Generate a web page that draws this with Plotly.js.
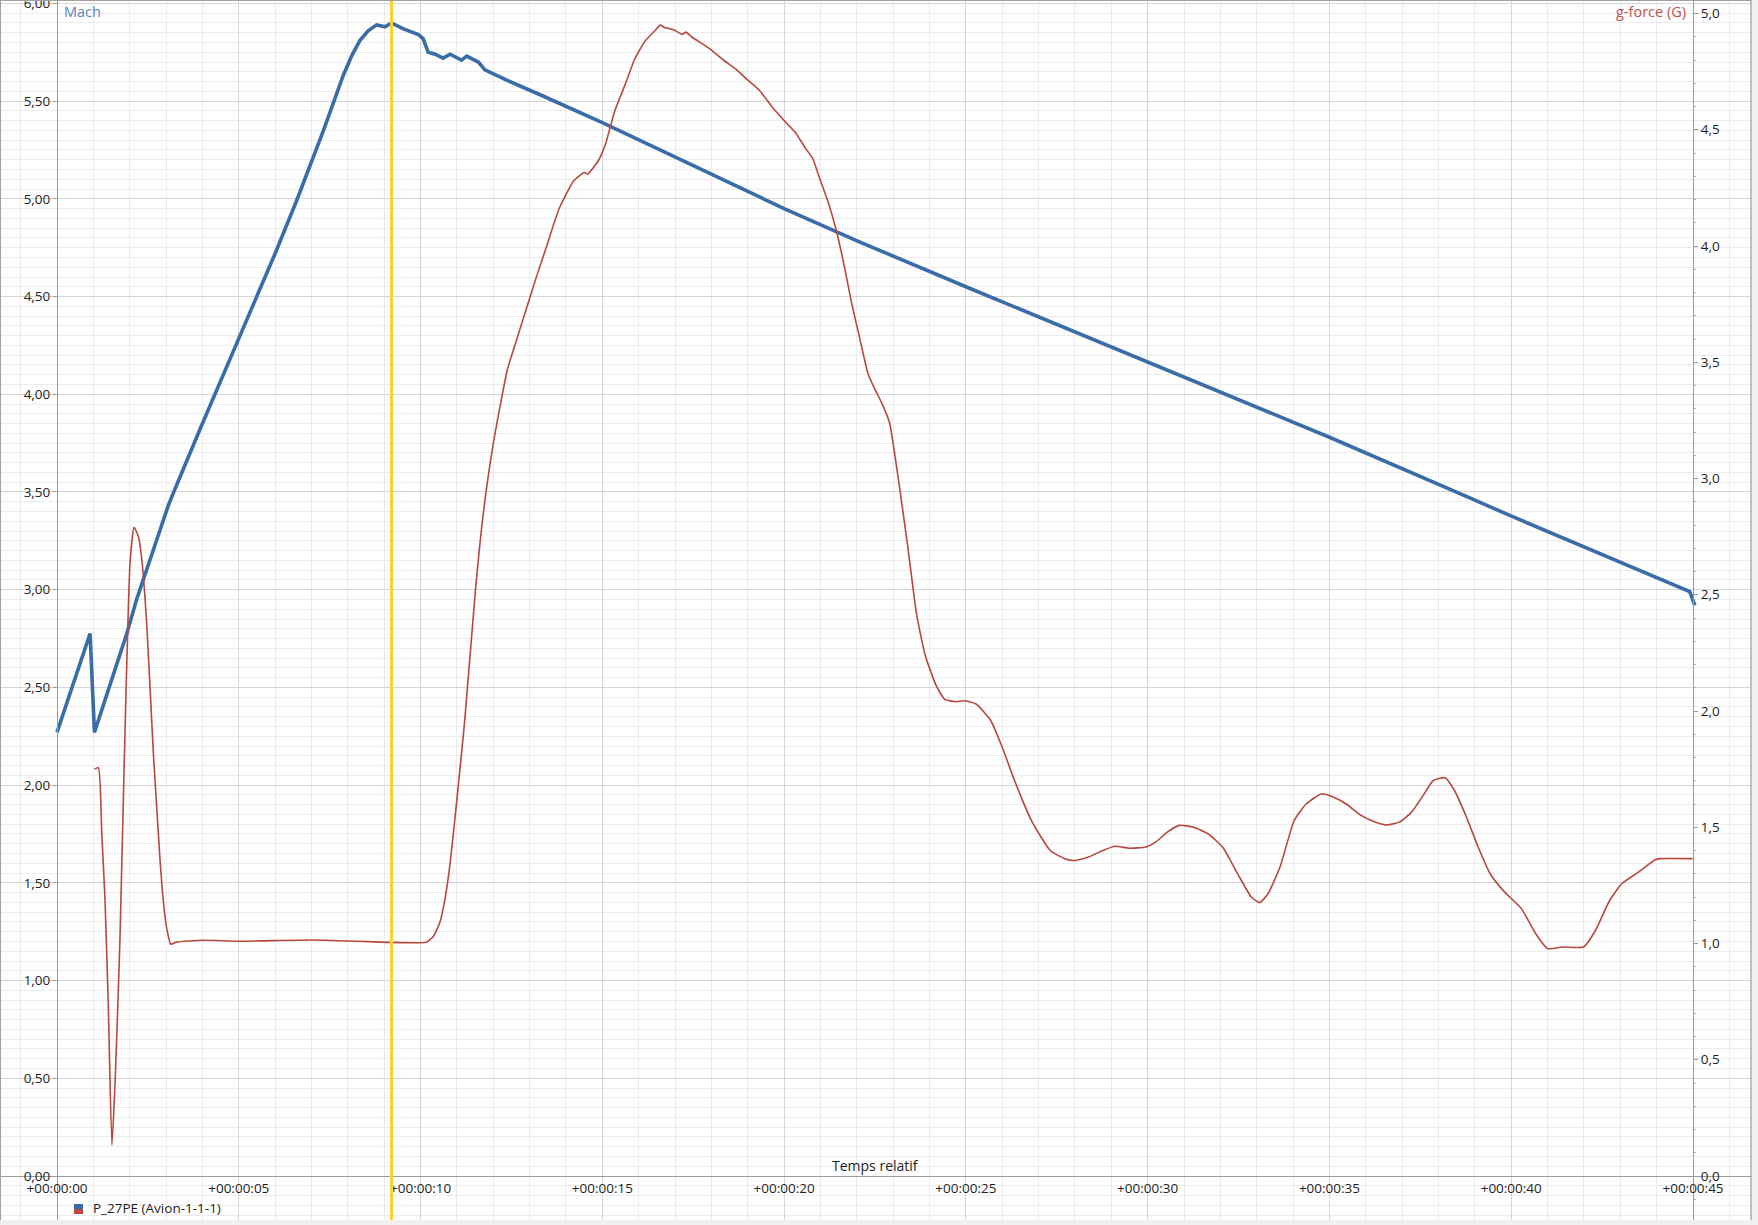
<!DOCTYPE html>
<html>
<head>
<meta charset="utf-8">
<script src="https://cdn.plot.ly/plotly-3.0.1.min.js"></script>
<style>
html,body{margin:0;padding:0;background:#f0f0f0;}
#chart{width:1758px;height:1225px;}
</style>
</head>
<body>
<div id="chart"></div>
<script>
// ---- data ----
// Mach (left axis) : time in seconds
var machTime = [0, 0.91, 1.03, 1.92, 2.19, 2.56, 2.74, 2.92, 3.06, 3.20,
  3.33, 3.47, 3.93, 4.39, 4.99, 5.49, 6.00, 6.59, 7.14, 7.33,
  7.60, 7.87, 8.10, 8.33, 8.56, 8.79, 9.02, 9.20, 9.53, 9.94,
  10.07, 10.21, 10.40, 10.62, 10.81, 11.13, 11.27, 11.59, 11.77, 12.34,
  13.32, 15.00, 20.00, 22.07, 25.00, 30.00, 35.00, 38.86, 39.96, 44.91,
  45.05];
var machValue = [2.27, 2.776, 2.27, 2.776, 2.95, 3.16, 3.26, 3.355, 3.43, 3.495,
  3.555, 3.615, 3.82, 4.02, 4.27, 4.49, 4.72, 4.99, 5.25, 5.35,
  5.49, 5.63, 5.73, 5.81, 5.86, 5.89, 5.88, 5.90, 5.87, 5.84,
  5.82, 5.75, 5.74, 5.72, 5.74, 5.71, 5.73, 5.70, 5.66, 5.61,
  5.53, 5.39, 4.95, 4.78, 4.55, 4.167, 3.78, 3.47, 3.38, 2.99,
  2.92];

// g-force (right axis)
var gTime = [1.03, 1.14, 1.23, 1.32, 1.41, 1.51, 1.60, 1.73, 1.87, 2.01,
  2.12, 2.24, 2.33, 2.47, 2.65, 2.83, 2.92, 3.02, 3.13, 3.29,
  4.02, 5.01, 7.05, 9.20, 9.98, 10.17, 10.35, 10.53, 10.67, 10.81,
  11.00, 11.21, 11.51, 11.73, 12.00, 12.39, 12.63, 12.98, 13.18, 13.47,
  13.81, 14.21, 14.50, 14.60, 14.90, 15.09, 15.34, 15.63, 15.88, 16.17,
  16.47, 16.59, 16.71, 16.96, 17.20, 17.30, 17.45, 17.94, 18.33, 18.68,
  18.92, 19.32, 19.71, 20.00, 20.30, 20.59, 20.79, 20.98, 21.23, 21.43,
  21.62, 21.87, 22.07, 22.31, 22.51, 22.70, 22.90, 23.15, 23.39, 23.64,
  23.88, 24.18, 24.42, 24.72, 24.98, 25.28, 25.68, 26.00, 26.34, 26.80,
  27.32, 27.72, 27.98, 28.37, 28.77, 29.10, 29.49, 29.95, 30.22, 30.54,
  30.87, 31.27, 31.66, 32.06, 32.45, 32.85, 33.08, 33.31, 33.64, 34.03,
  34.36, 34.79, 35.15, 35.48, 35.87, 36.27, 36.59, 36.92, 37.26, 37.58,
  37.85, 38.18, 38.44, 38.77, 39.09, 39.42, 39.82, 40.28, 40.67, 41.00,
  41.40, 41.99, 42.32, 42.71, 43.04, 43.50, 43.96, 44.09, 44.99];
var gValue = [1.75, 1.755, 1.48, 1.19, 0.74, 0.133, 0.41, 1.01, 1.91, 2.64,
  2.79, 2.75, 2.655, 2.37, 1.82, 1.37, 1.19, 1.064, 0.997, 1.006,
  1.014, 1.01, 1.015, 1.005, 1.003, 1.006, 1.03, 1.09, 1.19, 1.34,
  1.62, 1.95, 2.52, 2.855, 3.15, 3.47, 3.59, 3.765, 3.864, 4.00,
  4.16, 4.28, 4.316, 4.31, 4.37, 4.44, 4.58, 4.695, 4.80, 4.88,
  4.93, 4.95, 4.94, 4.93, 4.91, 4.92, 4.90, 4.85, 4.80, 4.76,
  4.725, 4.67, 4.59, 4.54, 4.49, 4.42, 4.375, 4.29, 4.18, 4.07,
  3.94, 3.745, 3.61, 3.45, 3.38, 3.32, 3.24, 2.99, 2.72, 2.42,
  2.24, 2.11, 2.05, 2.04, 2.044, 2.03, 1.96, 1.844, 1.70, 1.53,
  1.40, 1.365, 1.357, 1.372, 1.40, 1.418, 1.41, 1.415, 1.436, 1.479,
  1.508, 1.50, 1.472, 1.415, 1.307, 1.20, 1.176, 1.214, 1.329, 1.529,
  1.60, 1.644, 1.627, 1.598, 1.551, 1.522, 1.51, 1.522, 1.565, 1.637,
  1.70, 1.713, 1.658, 1.543, 1.415, 1.30, 1.221, 1.15, 1.043, 0.978,
  0.985, 0.985, 1.057, 1.186, 1.257, 1.307, 1.36, 1.365, 1.365];

var timeTickVals = [0, 5, 10, 15, 20, 25, 30, 35, 40, 45];
var timeTickText = ["+00:00:00", "+00:00:05", "+00:00:10", "+00:00:15", "+00:00:20",
  "+00:00:25", "+00:00:30", "+00:00:35", "+00:00:40", "+00:00:45"];
var cursorTime = 9.2;
var leftTitle = "Mach";
var rightTitle = "g-force (G)";
var xTitle = "Temps relatif";
var seriesName = "P_27PE (Avion-1-1-1)";

// ---- geometry (pixels of the 1758x1225 picture) ----
var W = 1758, H = 1225;
var PW = 1751, PH = 1220;           // plot area
var axL = 57, axR = 1693, axB = 1176, axTop = 3.4;
var pxPerSec = (axR - axL) / 45;
var pxPerMach = (axB - axTop) / 6;
var pxPerG = 232.5;

var xRange = [-axL / pxPerSec, (PW - axL) / pxPerSec];
var yRange = [-(PH - axB) / pxPerMach, axB / pxPerMach];
var gRange = [-(PH - axB) / pxPerG, axB / pxPerG];

var FONT = '"Open Sans", "Noto Sans", sans-serif';
var BLUE = '#3a6ca8', RED = '#b8483f';

var traces = [
  {x: gTime, y: gValue, yaxis: 'y2', type: 'scatter', mode: 'lines',
   line: {color: RED, width: 1.6, shape: 'spline', smoothing: 0.5},
   name: rightTitle, showlegend: false, hoverinfo: 'skip'},
  {x: machTime, y: machValue, type: 'scatter', mode: 'lines',
   line: {color: BLUE, width: 3.6}, name: leftTitle, showlegend: false, hoverinfo: 'skip'}
];

var layout = {
  width: W, height: H,
  margin: {l: 0, r: W - PW, t: 0, b: H - PH, pad: 0},
  paper_bgcolor: '#f0f0f0',
  plot_bgcolor: '#ffffff',
  separators: ', ',
  showlegend: false,
  hovermode: false,
  font: {family: FONT, size: 14, color: '#1e1e1e'},
  xaxis: {
    range: xRange, domain: [0, 1], anchor: 'free', position: (PH - axB) / PH,
    tickmode: 'array', tickvals: timeTickVals, ticktext: timeTickText,
    ticks: '', tickfont: {family: FONT, size: 13.5, color: '#1e1e1e'},
    showgrid: true, gridcolor: '#d6d6d6', gridwidth: 1,
    minor: {tickmode: 'linear', tick0: 0, dtick: 1, showgrid: true, gridcolor: '#ececec', gridwidth: 1, ticks: ''},
    zeroline: false, showline: true, linecolor: '#9a9a9a', linewidth: 1,
    fixedrange: true
  },
  yaxis: {
    range: yRange, domain: [0, 1], anchor: 'free', position: axL / PW, side: 'left',
    tickmode: 'linear', tick0: 0, dtick: 0.5, tickformat: '.2f',
    ticks: 'outside', ticklen: 4, tickcolor: '#9a9a9a',
    tickfont: {family: FONT, size: 13.5, color: '#1e1e1e'},
    ticklabeloverflow: 'allow',
    showgrid: true, gridcolor: '#d6d6d6', gridwidth: 1,
    minor: {tickmode: 'linear', tick0: 0, dtick: 0.05, showgrid: true, gridcolor: '#ececec', gridwidth: 1, ticks: ''},
    zeroline: false, showline: true, linecolor: '#9a9a9a', linewidth: 1,
    fixedrange: true
  },
  yaxis2: {
    range: gRange, overlaying: 'y', anchor: 'free', position: axR / PW, side: 'right',
    tickmode: 'linear', tick0: 0, dtick: 0.5, tickformat: '.1f',
    ticks: 'outside', ticklen: 4, tickcolor: '#9a9a9a',
    tickfont: {family: FONT, size: 13.5, color: '#1e1e1e'},
    ticklabeloverflow: 'allow',
    minor: {tickmode: 'linear', tick0: 0, dtick: 0.1, ticks: 'outside', ticklen: 2, tickcolor: '#b0b0b0', showgrid: false},
    showgrid: false, zeroline: false, showline: true, linecolor: '#9a9a9a', linewidth: 1,
    fixedrange: true
  },
  shapes: [
    {type: 'line', xref: 'x', yref: 'paper', x0: cursorTime, x1: cursorTime, y0: 0, y1: 1,
     line: {color: '#fdd22f', width: 3}, layer: 'above'},
    // window border
    {type: 'line', xref: 'paper', yref: 'paper', x0: 0, x1: 0, y0: 0, y1: 1, line: {color: '#a0a0a0', width: 2}},
    {type: 'line', xref: 'paper', yref: 'paper', x0: 0, x1: 1, y0: 1, y1: 1, line: {color: '#a0a0a0', width: 2}},
    {type: 'line', xref: 'paper', yref: 'paper', x0: 1, x1: 1, y0: 0, y1: 1, line: {color: '#8a8a8a', width: 1}},
    // legend swatch (blue over red)
    {type: 'rect', xref: 'paper', yref: 'paper', x0: 74 / PW, x1: 83 / PW, y0: (PH - 1209) / PH, y1: (PH - 1204) / PH,
     line: {width: 0}, fillcolor: BLUE},
    {type: 'rect', xref: 'paper', yref: 'paper', x0: 74 / PW, x1: 83 / PW, y0: (PH - 1214) / PH, y1: (PH - 1209) / PH,
     line: {width: 0}, fillcolor: RED}
  ],
  annotations: [
    {text: leftTitle, xref: 'paper', yref: 'paper', x: 62 / PW, y: (PH - 12) / PH,
     xanchor: 'left', yanchor: 'middle', showarrow: false,
     font: {family: FONT, size: 14.5, color: '#5a86c0'}},
    {text: rightTitle, xref: 'paper', yref: 'paper', x: 1688 / PW, y: (PH - 12) / PH,
     xanchor: 'right', yanchor: 'middle', showarrow: false,
     font: {family: FONT, size: 14.5, color: '#c0504d'}},
    {text: xTitle, xref: 'paper', yref: 'paper', x: 875 / PW, y: (PH - 1165) / PH,
     xanchor: 'center', yanchor: 'middle', showarrow: false,
     font: {family: FONT, size: 14, color: '#1e1e1e'}},
    {text: seriesName, xref: 'paper', yref: 'paper', x: 91 / PW, y: (PH - 1208) / PH,
     xanchor: 'left', yanchor: 'middle', showarrow: false,
     font: {family: FONT, size: 13.5, color: '#1e1e1e'}}
  ]
};

Plotly.newPlot('chart', traces, layout, {staticPlot: true, displayModeBar: false});
</script>
</body>
</html>
